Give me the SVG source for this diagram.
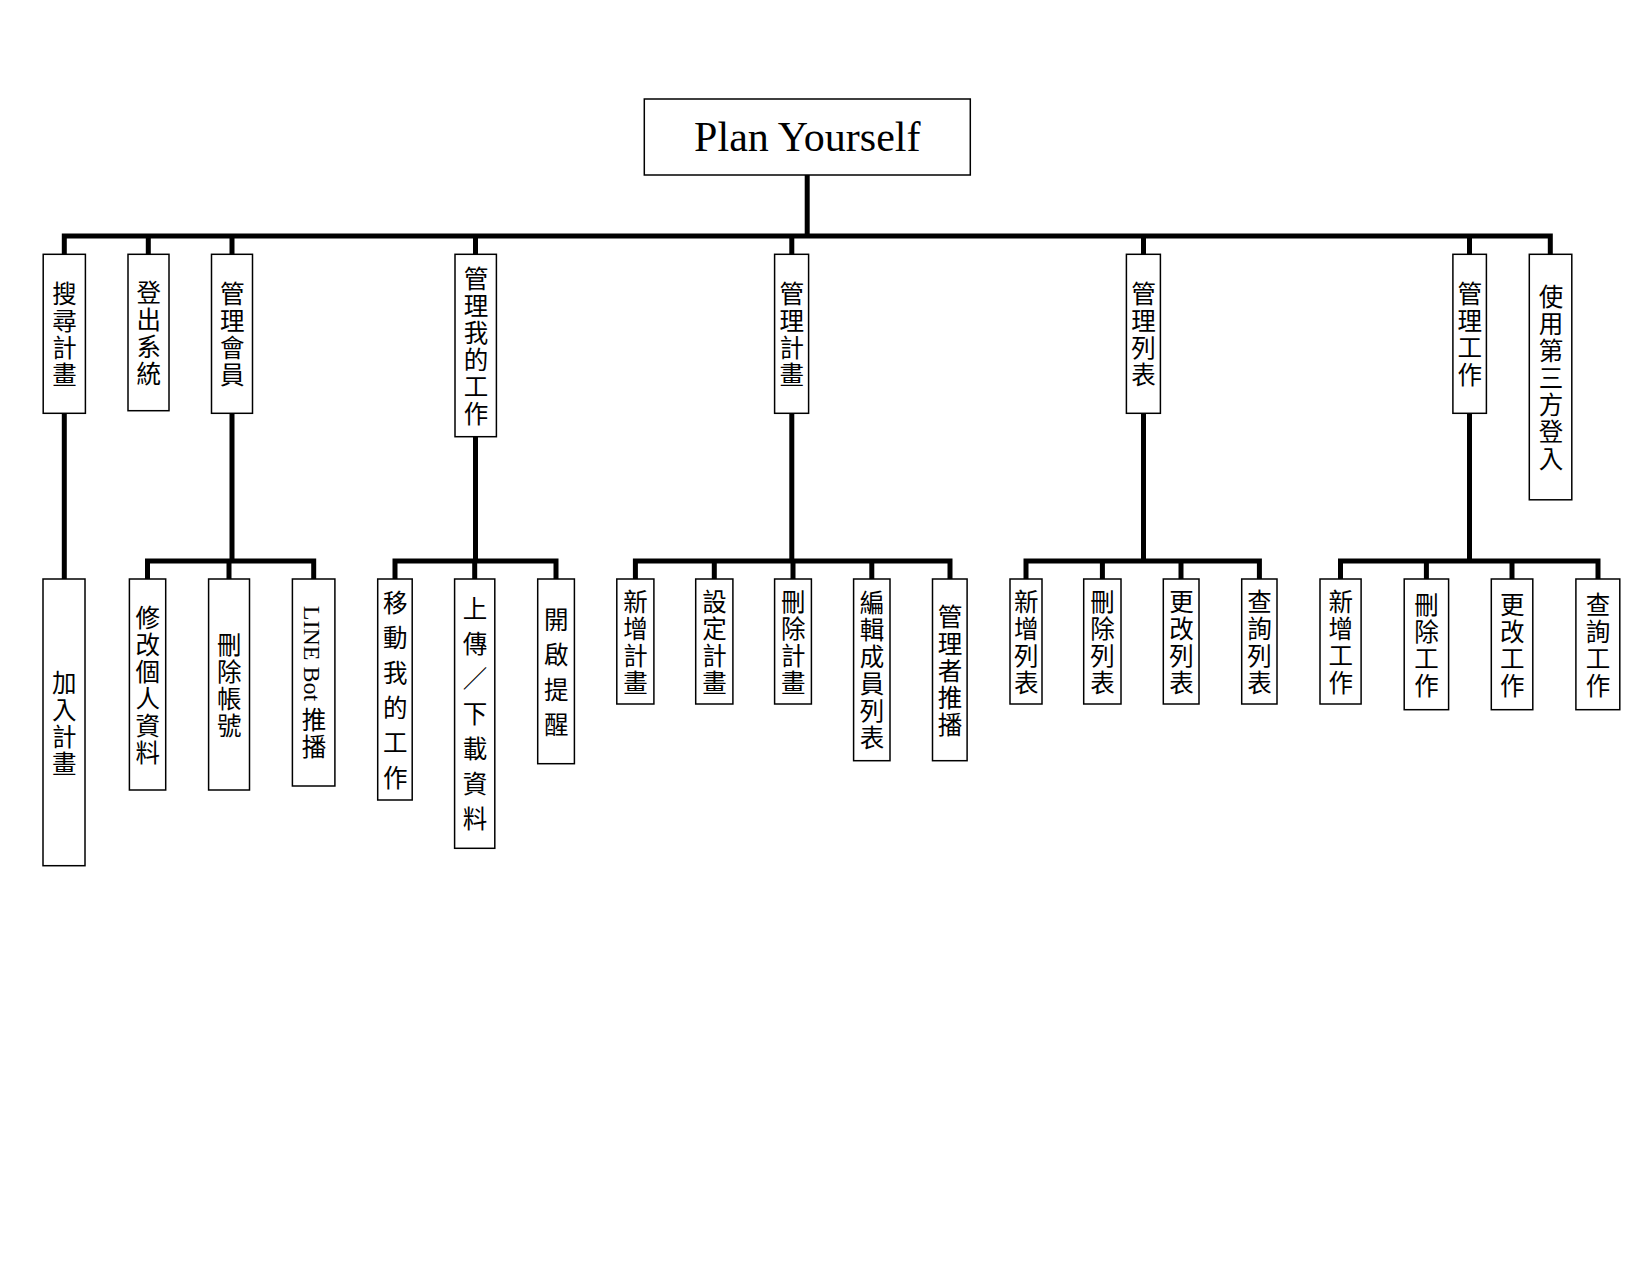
<svg xmlns="http://www.w3.org/2000/svg" width="1650" height="1275" viewBox="0 0 1650 1275">
<style>
.box{fill:#fff;stroke:#000;stroke-width:1.5}
.conn{fill:none;stroke:#000;stroke-width:5;stroke-linejoin:miter}
.v{font-family:"Liberation Serif","Noto Sans CJK TC",serif;font-size:24.5px;writing-mode:vertical-rl;text-anchor:middle;letter-spacing:2.5px;fill:#000}
.w{letter-spacing:10.5px}
.lat{font-size:24px;letter-spacing:0}
.root{font-family:"Liberation Serif","Noto Sans CJK TC",serif;font-size:42px;text-anchor:middle;fill:#000}
</style>
<rect width="1650" height="1275" fill="#fff"/>
<g id="connectors">
<path class="conn" d="M807.2 175 V236"/>
<path class="conn" d="M64.3 254 V236 H1550.3 V254"/>
<path class="conn" d="M148.3 236 V254 M232 236 V254 M475.5 236 V254 M791.8 236 V254 M1143.5 236 V254 M1469.5 236 V254"/>
<path class="conn" d="M64.3 413 V579"/>
<path class="conn" d="M232 413 V561 M147.5 579 V561 H313.7 V579 M229 561 V579"/>
<path class="conn" d="M475.5 437 V561 M395 579 V561 H556 V579 M474.7 561 V579"/>
<path class="conn" d="M791.8 413 V561 M635.4 579 V561 H950 V579 M714.3 561 V579 M793 561 V579 M871.8 561 V579"/>
<path class="conn" d="M1143.5 413 V561 M1026 579 V561 H1259.4 V579 M1102.4 561 V579 M1181 561 V579"/>
<path class="conn" d="M1469.5 413 V561 M1340.5 579 V561 H1598 V579 M1426.4 561 V579 M1512 561 V579"/>
</g>
<g id="root"><rect class="box" x="644.3" y="99" width="326" height="76"/><text class="root" x="807.3" y="151">Plan Yourself</text></g>
<g id="n-search"><rect class="box" x="43.2" y="254.3" width="42.2" height="159"/><text class="v" x="62.5" y="335">搜尋計畫</text></g>
<g id="n-logout"><rect class="box" x="128" y="254.3" width="41" height="156.4"/><text class="v" x="146.7" y="334">登出系統</text></g>
<g id="n-member"><rect class="box" x="211.5" y="254.3" width="41" height="159"/><text class="v" x="230.2" y="335">管理會員</text></g>
<g id="n-mywork"><rect class="box" x="455" y="254.3" width="41.4" height="182.4"/><text class="v" x="473.9" y="347">管理我的工作</text></g>
<g id="n-plan"><rect class="box" x="774.6" y="254.3" width="34" height="159"/><text class="v" x="789.8" y="335">管理計畫</text></g>
<g id="n-list"><rect class="box" x="1126.4" y="254.3" width="34" height="159"/><text class="v" x="1141.6" y="335">管理列表</text></g>
<g id="n-task"><rect class="box" x="1452.9" y="254.3" width="33.5" height="159"/><text class="v" x="1467.8" y="335">管理工作</text></g>
<g id="n-oauth"><rect class="box" x="1529.3" y="254.3" width="42.5" height="245.5"/><text class="v" x="1549" y="378.5">使用第三方登入</text></g>
<g id="n-join"><rect class="box" x="43" y="579" width="42" height="286.7"/><text class="v" x="62.2" y="724">加入計畫</text></g>
<g id="n-profile"><rect class="box" x="129.4" y="579" width="36.3" height="211"/><text class="v" x="145.7" y="686">修改個人資料</text></g>
<g id="n-delacc"><rect class="box" x="208.6" y="579" width="40.9" height="211"/><text class="v" x="227.2" y="686">刪除帳號</text></g>
<g id="n-linebot"><rect class="box" x="292.4" y="579" width="42.5" height="207"/><text class="v" x="312" y="683.5"><tspan class="lat">LINE Bot </tspan>推播</text></g>
<g id="n-movework"><rect class="box" x="377.7" y="579" width="34.5" height="221"/><text class="v w" x="393.2" y="695">移動我的工作</text></g>
<g id="n-updown"><rect class="box" x="454.6" y="579" width="40.2" height="269.3"/><text class="v w" x="472.9" y="719">上傳／下載資料</text></g>
<g id="n-remind"><rect class="box" x="537.7" y="579" width="36.7" height="184.7"/><text class="v w" x="554.2" y="677">開啟提醒</text></g>
<g id="n-addplan"><rect class="box" x="616.8" y="579" width="37.1" height="125"/><text class="v" x="633.6" y="643">新增計畫</text></g>
<g id="n-setplan"><rect class="box" x="695.7" y="579" width="37.2" height="125"/><text class="v" x="712.5" y="643">設定計畫</text></g>
<g id="n-delplan"><rect class="box" x="774.6" y="579" width="36.8" height="125"/><text class="v" x="791.2" y="643">刪除計畫</text></g>
<g id="n-editmem"><rect class="box" x="853.6" y="579" width="36.4" height="181.7"/><text class="v" x="870" y="671.5">編輯成員列表</text></g>
<g id="n-adminpush"><rect class="box" x="932.5" y="579" width="34.6" height="181.7"/><text class="v" x="948" y="671.5">管理者推播</text></g>
<g id="n-addlist"><rect class="box" x="1010" y="579" width="32" height="125"/><text class="v" x="1024.2" y="643">新增列表</text></g>
<g id="n-dellist"><rect class="box" x="1083.7" y="579" width="37.3" height="125"/><text class="v" x="1100.6" y="643">刪除列表</text></g>
<g id="n-editlist"><rect class="box" x="1163.3" y="579" width="35.7" height="125"/><text class="v" x="1179.4" y="643">更改列表</text></g>
<g id="n-querylist"><rect class="box" x="1241.7" y="579" width="35.3" height="125"/><text class="v" x="1257.6" y="643">查詢列表</text></g>
<g id="n-addtask"><rect class="box" x="1320" y="579" width="41.1" height="125"/><text class="v" x="1338.8" y="643">新增工作</text></g>
<g id="n-deltask"><rect class="box" x="1404.2" y="579" width="44.4" height="130.7"/><text class="v" x="1424.6" y="646">刪除工作</text></g>
<g id="n-edittask"><rect class="box" x="1491.3" y="579" width="41.5" height="130.7"/><text class="v" x="1510.2" y="646">更改工作</text></g>
<g id="n-querytask"><rect class="box" x="1575.9" y="579" width="43.9" height="130.7"/><text class="v" x="1596.1" y="646">查詢工作</text></g>
</svg>
